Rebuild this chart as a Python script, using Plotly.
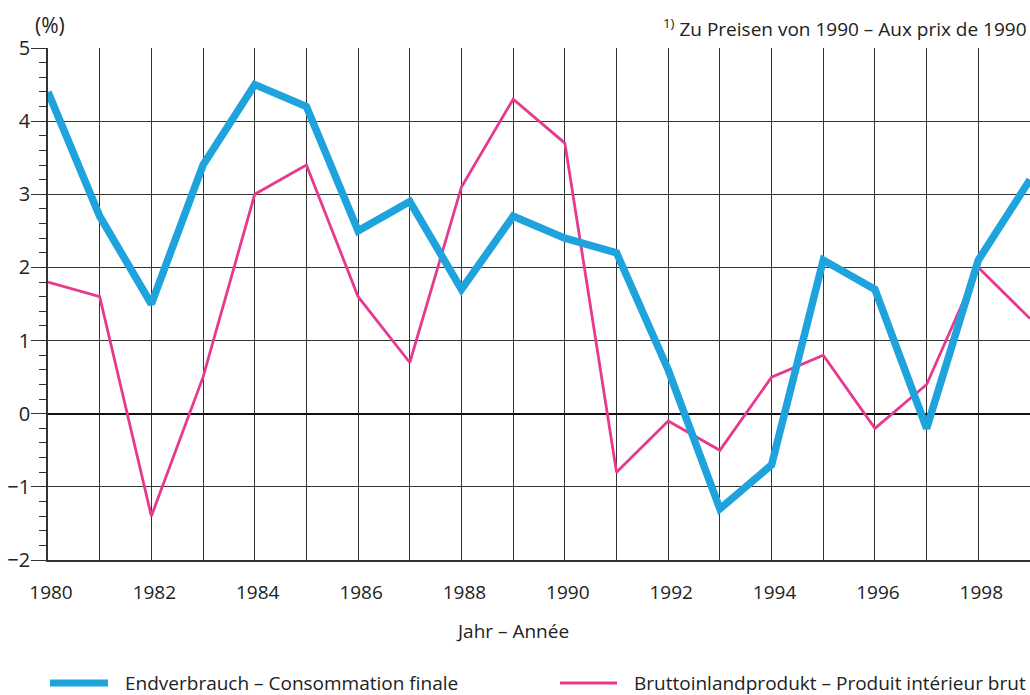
import plotly.graph_objects as go

years = list(range(1980, 2000))
endverbrauch = [4.4, 2.7, 1.5, 3.4, 4.5, 4.2, 2.5, 2.9, 1.7, 2.7,
                2.4, 2.2, 0.6, -1.3, -0.7, 2.1, 1.7, -0.2, 2.1, 3.2]
bip = [1.8, 1.6, -1.4, 0.5, 3.0, 3.4, 1.6, 0.7, 3.1, 4.3,
       3.7, -0.8, -0.1, -0.5, 0.5, 0.8, -0.2, 0.4, 2.0, 1.3]
y_tick_vals = [-2, -1, 0, 1, 2, 3, 4, 5]
y_tick_text = ["\u22122", "\u22121", "0", "1", "2", "3", "4", "5"]

name_end = "Endverbrauch \u2013 Consommation finale"
name_bip = "Bruttoinlandprodukt \u2013 Produit int\u00e9rieur brut"
footnote = "<sup>1)</sup> Zu Preisen von 1990 \u2013 Aux prix de 1990"
x_title = "Jahr \u2013 Ann\u00e9e"

BLUE = "#1ea3dd"
PINK = "#e63a8e"
GRID = "#333333"
FONT = "Open Sans"

W, H = 1030, 695
ML, MR, MT, MB = 48, 0, 48, 135
PW, PH = W - ML - MR, H - MT - MB


def px(xp):
    return (xp - ML) / PW


def py(yp):
    return (H - MB - yp) / PH


fig = go.Figure()
fig.add_trace(go.Scatter(x=years, y=bip, mode="lines", name=name_bip,
                         line=dict(color=PINK, width=2.8), showlegend=False))
fig.add_trace(go.Scatter(x=years, y=endverbrauch, mode="lines", name=name_end,
                         line=dict(color=BLUE, width=7.5), showlegend=False))

fig.update_layout(
    width=W, height=H,
    margin=dict(l=ML, r=MR, t=MT, b=MB),
    paper_bgcolor="white", plot_bgcolor="white",
    font=dict(family=FONT, size=19, color="#222"),
    xaxis=dict(range=[1980, 1999], tick0=1980, dtick=1, ticklabelstep=2,
               showgrid=True, gridcolor=GRID, gridwidth=1.3,
               ticks="outside", ticklen=14, tickcolor="rgba(0,0,0,0)",
               showline=True, linecolor=GRID, linewidth=1.6,
               zeroline=False, tickfont=dict(size=19), ticklabelshift=3),
    yaxis=dict(range=[-2, 5], tickvals=y_tick_vals, ticktext=y_tick_text,
               showgrid=True, gridcolor=GRID, gridwidth=1.3,
               ticks="outside", ticklen=15, tickcolor=GRID, tickwidth=1.3,
               minor=dict(dtick=0.2, ticks="outside", ticklen=7, tickcolor=GRID,
                          tickwidth=1, showgrid=False),
               showline=True, linecolor=GRID, linewidth=1.6,
               zeroline=True, zerolinecolor="#111", zerolinewidth=2,
               tickfont=dict(size=20), ticklabelstandoff=-3),
)

fig.add_annotation(x=px(33), y=py(25), xref="paper", yref="paper", text="(%)",
                   showarrow=False, font=dict(size=21), xanchor="left", yanchor="middle")
fig.add_annotation(x=px(1029), y=py(28), xref="paper", yref="paper",
                   text=footnote, showarrow=False, font=dict(size=19),
                   xanchor="right", yanchor="middle")
fig.add_annotation(x=px(512), y=py(631), xref="paper", yref="paper",
                   text=x_title, showarrow=False, font=dict(size=19),
                   xanchor="center", yanchor="middle")

# legend drawn manually
leg_y = 683
fig.add_shape(type="line", xref="paper", yref="paper",
              x0=px(50), x1=px(108), y0=py(leg_y), y1=py(leg_y),
              line=dict(color=BLUE, width=7))
fig.add_annotation(x=px(123), y=py(leg_y), xref="paper", yref="paper",
                   text=name_end, showarrow=False,
                   font=dict(size=19), xanchor="left", yanchor="middle")
fig.add_shape(type="line", xref="paper", yref="paper",
              x0=px(560), x1=px(617), y0=py(leg_y), y1=py(leg_y),
              line=dict(color=PINK, width=3))
fig.add_annotation(x=px(632), y=py(leg_y), xref="paper", yref="paper",
                   text=name_bip, showarrow=False,
                   font=dict(size=19), xanchor="left", yanchor="middle")

fig.write_html("out.html", config={"displayModeBar": False},
               post_script="document.body.style.margin='0';document.body.style.overflow='hidden';")
